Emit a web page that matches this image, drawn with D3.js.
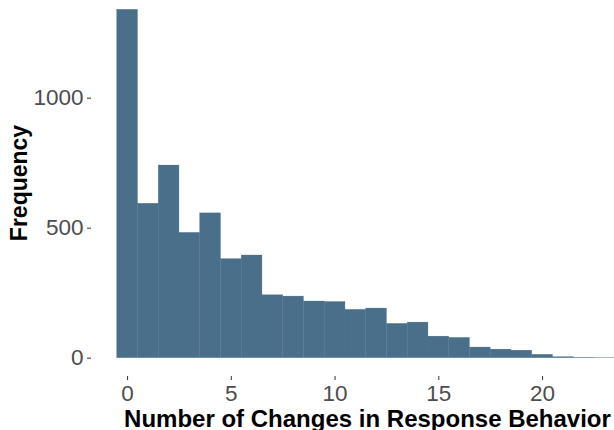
<!DOCTYPE html>
<html><head><meta charset="utf-8">
<script src="https://cdn.jsdelivr.net/npm/d3@7"></script>
<style>body{margin:0;background:#fff}</style>
</head><body>
<script>
const bins = [0,1,2,3,4,5,6,7,8,9,10,11,12,13,14,15,16,17,18,19,20,21,22,23];
const counts = [1340,594,741,482,557,381,395,242,237,218,216,186,191,132,137,83,78,41,33,29,13,4,2,1];
const xTicks = [0,5,10,15,20];
const yTicks = [0,500,1000];

const W = 614, H = 430;
const svg = d3.select("body").append("svg").attr("width", W).attr("height", H);
const font = "'Liberation Sans', Arial, sans-serif";

const x = d3.scaleLinear().domain([-1.7, 24.7]).range([91.8, 639.6]);
const y = d3.scaleLinear().domain([0, 1000]).range([357.7, 97.7]);

svg.append("g").selectAll("rect").data(bins).join("rect")
  .attr("x", d => x(d - 0.5))
  .attr("width", d => x(d + 0.5) - x(d - 0.5))
  .attr("y", (d, i) => y(counts[i]))
  .attr("height", (d, i) => y(0) - y(counts[i]))
  .attr("fill", "#4a6f8a")
  .attr("stroke", "#4a6f8a")
  .attr("stroke-width", 0.3);

const xAxis = svg.append("g").attr("transform", "translate(0,376)")
  .call(d3.axisBottom(x).tickValues(xTicks).tickFormat(d3.format("d")).tickSize(4).tickPadding(5.5));
const yAxis = svg.append("g").attr("transform", "translate(91,0)")
  .call(d3.axisLeft(y).tickValues(yTicks).tickFormat(d3.format("d")).tickSize(4).tickPadding(3.5));
[xAxis, yAxis].forEach(g => {
  g.select(".domain").remove();
  g.selectAll(".tick line").attr("stroke", "#333").attr("stroke-width", 1);
  g.selectAll(".tick text").attr("fill", "#4d4d4d").style("font-family", font).style("font-size", "22.5px");
});

svg.append("text").attr("x", 367.5).attr("y", 426.5).attr("text-anchor", "middle")
  .style("font-family", font).style("font-size", "24px").style("font-weight", "bold").attr("fill", "#000")
  .text("Number of Changes in Response Behavior");
svg.append("text").attr("transform", "translate(26.5,183) rotate(-90)").attr("text-anchor", "middle")
  .style("font-family", font).style("font-size", "23px").style("font-weight", "bold").attr("fill", "#000")
  .text("Frequency");
</script>
</body></html>
